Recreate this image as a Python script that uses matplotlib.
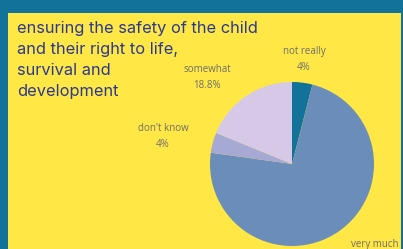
import matplotlib.pyplot as plt
from matplotlib.patches import Rectangle

# data
categories = ['not really', 'very much', "don't know", 'somewhat']
values = [4.0, 73.2, 4.0, 18.8]
shown = ['4%', '', '4%', '18.8%']
colors = ['#13729a', '#6a8dba', '#a6a9d4', '#d6c9e8']
title_lines = ['ensuring the safety of the child', 'and their right to life,',
               'survival and', 'development']

W, H = 403, 249
fig = plt.figure(figsize=(W / 100, H / 100), dpi=100, facecolor='#13729a')

# yellow panel behind everything
bg = fig.add_axes([0, 0, 1, 1], zorder=-5)
bg.set_xlim(0, W)
bg.set_ylim(H, 0)
bg.axis('off')
bg.add_patch(Rectangle((8, 13), 401 - 8, H - 13, color='#ffe745', linewidth=0))

# pie, centre (292,164) radius 82 px
cx, cy, r = 292, 164, 82
ax = fig.add_axes([(cx - r) / W, (H - cy - r) / H, 2 * r / W, 2 * r / H])
ax.pie(values, colors=colors, startangle=90, counterclock=False,
       wedgeprops=dict(linewidth=0))
ax.set_xlim(-1, 1)
ax.set_ylim(-1, 1)
ax.set_aspect('equal')
ax.axis('off')

# labels (pixel positions of the first-line centres)
label_pos = [(304, 52), (375, 244), (163, 129), (207, 70)]
for name, pct, (x, y) in zip(categories, shown, label_pos):
    if pct:
        txt = name + '\n' + pct
        y = y + 7.5
    else:
        txt = name
    fig.text(x / W, 1 - y / H, txt, ha='center', va='center',
             fontsize=7, color='#6e6e6e', family='Open Sans', linespacing=1.6)

# title
for i, line in enumerate(title_lines):
    fig.text(17 / W, 1 - (33 + 21 * i) / H, line, ha='left', va='baseline',
             fontsize=11.8, color='#2b3990', family='Inter')

fig.savefig('out.png', dpi=100, facecolor=fig.get_facecolor())
